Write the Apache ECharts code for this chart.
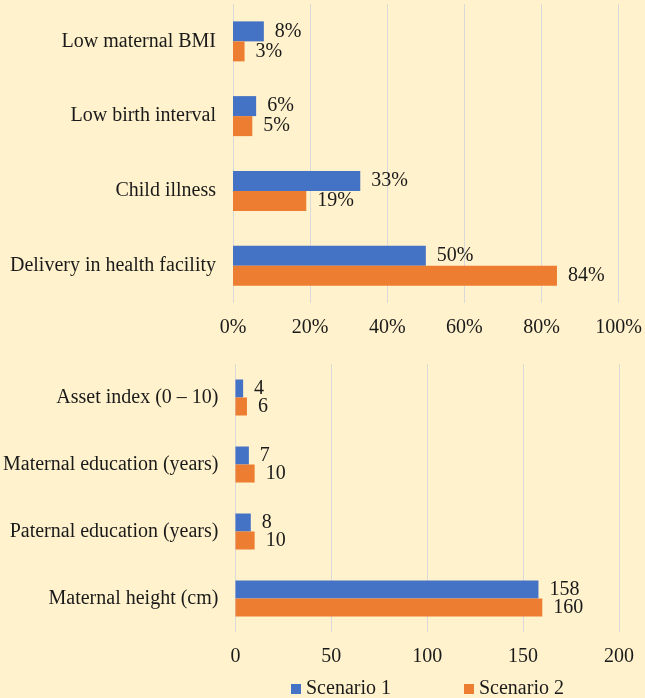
<!DOCTYPE html>
<html>
<head>
<meta charset="utf-8">
<script src="https://cdn.jsdelivr.net/npm/echarts@6/dist/echarts.min.js"></script>
<style>
html,body{margin:0;padding:0;background:#FFF2CC;}
#chart{width:645px;height:698px;}
</style>
</head>
<body>
<div id="chart"></div>
<script>
const topCategories = ['Low maternal BMI', 'Low birth interval', 'Child illness', 'Delivery in health facility'];
const topScenario1 = [8, 6, 33, 50];
const topScenario2 = [3, 5, 19, 84];
const topTicks = ['0%', '20%', '40%', '60%', '80%', '100%'];

const bottomCategories = ['Asset index (0 \u2013 10)', 'Maternal education (years)', 'Paternal education (years)', 'Maternal height (cm)'];
const bottomScenario1 = [4, 7, 8, 158];
const bottomScenario2 = [6, 10, 10, 160];
const bottomTicks = ['0', '50', '100', '150', '200'];

const seriesNames = ['Scenario 1', 'Scenario 2'];
const colors = ['#4472C4', '#ED7D31'];

const FONT = '"Liberation Serif", "Times New Roman", serif';
const TXT = '#1a1a1a';

const chart = echarts.init(document.getElementById('chart'), null, {renderer: 'canvas'});

function catAxis(idx, data) {
  return {
    type: 'category', gridIndex: idx, data: data, inverse: true,
    axisLine: {show: false}, axisTick: {show: false},
    axisLabel: {fontFamily: FONT, fontSize: 20, color: TXT, margin: 17}
  };
}
function valAxis(idx, max, interval, fmt) {
  return {
    type: 'value', gridIndex: idx, min: 0, max: max, interval: interval,
    axisLine: {show: false}, axisTick: {show: false},
    splitLine: {lineStyle: {color: '#D9D9D9', width: 1}},
    axisLabel: {fontFamily: FONT, fontSize: 20, color: TXT, margin: 15, formatter: fmt}
  };
}
function barSeries(name, data, gi, color, bw, suffix) {
  return {
    type: 'bar', name: name, xAxisIndex: gi, yAxisIndex: gi, data: data,
    barWidth: bw, barGap: '0%',
    itemStyle: {color: color},
    label: {show: true, position: 'right', distance: 11, fontFamily: FONT, fontSize: 20, color: TXT,
      formatter: p => p.value + suffix},
    emphasis: {disabled: true}
  };
}

chart.setOption({
  backgroundColor: '#FFF2CC',
  animation: false,
  textStyle: {fontFamily: FONT},
  legend: {
    data: seriesNames, left: 291, top: 679, padding: 0,
    icon: 'rect', itemWidth: 10, itemHeight: 10, itemGap: 73,
    textStyle: {fontFamily: FONT, fontSize: 20, color: TXT}
  },
  grid: [
    {left: 233, right: 25, top: 4, height: 299},
    {left: 235, right: 26, top: 364, height: 268}
  ],
  xAxis: [
    valAxis(0, 100, 20, v => topTicks[Math.round(v / 20)]),
    valAxis(1, 200, 50, v => bottomTicks[Math.round(v / 50)])
  ],
  yAxis: [catAxis(0, topCategories), catAxis(1, bottomCategories)],
  series: [
    barSeries(seriesNames[0], topScenario1, 0, colors[0], 20, '%'),
    barSeries(seriesNames[1], topScenario2, 0, colors[1], 20, '%'),
    barSeries(seriesNames[0], bottomScenario1, 1, colors[0], 18, ''),
    barSeries(seriesNames[1], bottomScenario2, 1, colors[1], 18, '')
  ]
});
</script>
</body>
</html>
